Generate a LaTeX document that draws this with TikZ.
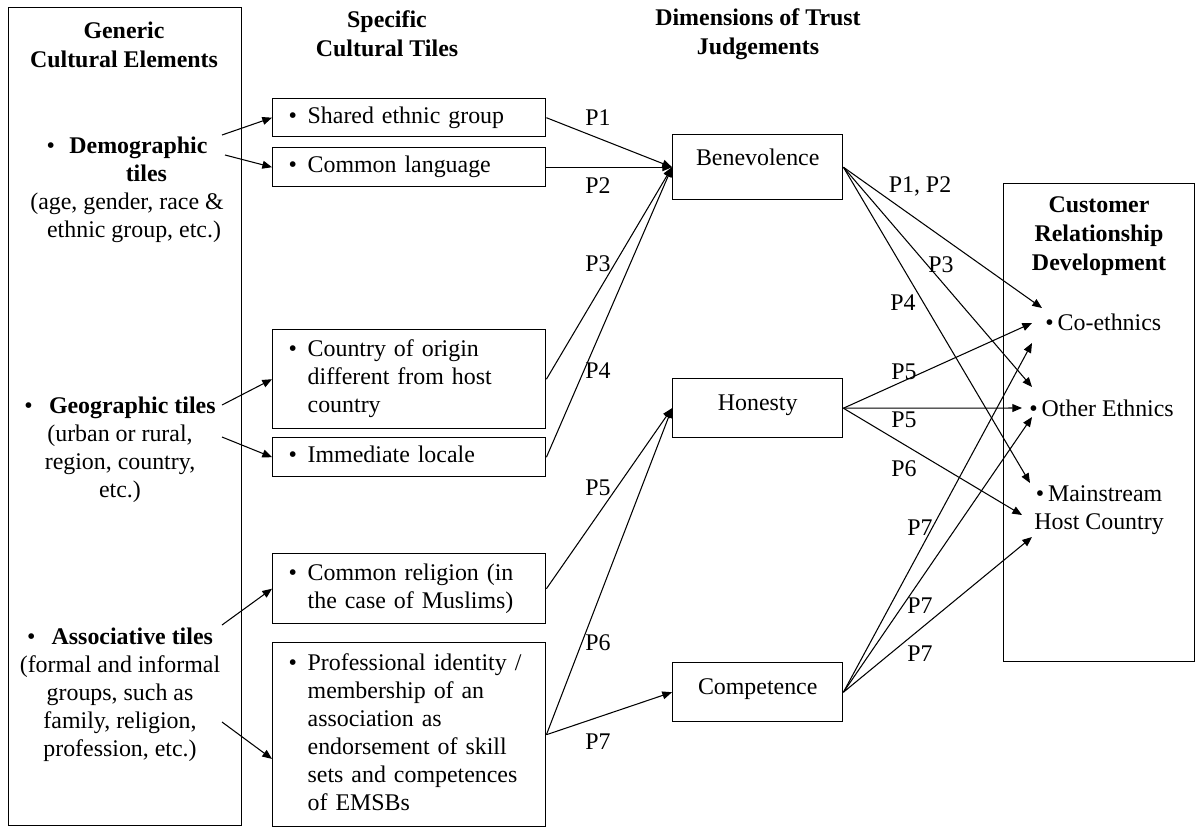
\documentclass[tikz,border=0pt]{standalone}
\usepackage{fontspec}
\setmainfont{Liberation Serif}
\usetikzlibrary{arrows.meta,positioning}

\newlength{\pxl}
\setlength{\pxl}{0.02cm}
\newcommand{\tileitem}[1]{\begin{tabular}{@{}p{10.8pt}@{}l@{}}\textbullet & #1\end{tabular}}

\tikzset{
  frame/.style={draw, line width=0.8pt, inner sep=0pt, anchor=north west},
  tile/.style={draw, line width=0.8pt, anchor=north west, text width=241\pxl, inner xsep=16\pxl, inner ysep=0pt, align=left},
  dim/.style={draw, line width=0.8pt, anchor=north west, minimum width=170\pxl, inner sep=0pt, text height=32\pxl, text depth=27\pxl},
  head/.style={font=\fontsize{13.6}{16.5}\selectfont\bfseries, align=center},
  link/.style={-{Triangle[length=5.5pt,width=4.5pt]}, line width=0.6pt},
}

\begin{document}
\begin{tikzpicture}[x=0.02cm, y=-0.02cm, font=\fontsize{13.6}{16}\selectfont]
  \useasboundingbox (0,0) rectangle (1195,829);

  % outer columns
  \node[frame, minimum width=233\pxl, minimum height=818\pxl] (generic) at (8,7) {};
  \node[frame, minimum width=191\pxl, minimum height=478\pxl] (crd) at (1003,183) {};

  % headings
  \node[head] (hgen) at (124,45) {Generic\\Cultural Elements};
  \node[head] (hspec) at (387,34) {Specific\\Cultural Tiles};
  \node[head] (hdim) at (758,34) {Dimensions of Trust\\Judgements};
  \node[head] (hcrd) at (1099,236) {Customer\\Relationship\\Development};

  % generic cultural elements
  \node[align=center] (demo) at (127,190) {\makebox[13pt][l]{\textbullet}\textbf{Demographic}\\\hspace*{22pt}\textbf{tiles}\\(age, gender, race \&\\\hspace*{8pt}ethnic group, etc.)};
  \node[align=center] (geo) at (120,450) {\makebox[14pt][l]{\textbullet}\textbf{Geographic tiles}\\(urban or rural,\\region, country,\\etc.)};
  \node[align=center] (asso) at (120,695) {\makebox[14pt][l]{\textbullet}\textbf{Associative tiles}\\(formal and informal\\groups, such as\\family, religion,\\profession, etc.)};

  % specific cultural tiles
  \node[tile, minimum height=38\pxl] (shared) at (272,98) {\tileitem{Shared ethnic group}};
  \node[tile, minimum height=39\pxl] (lang) at (272,147) {\tileitem{Common language}};
  \node[tile, minimum height=99\pxl] (origin) at (272,329) {\tileitem{Country of origin\\ & different from host\\ & country}};
  \node[tile, minimum height=39\pxl] (locale) at (272,437) {\tileitem{Immediate locale}};
  \node[tile, minimum height=70\pxl] (religion) at (272,553) {\tileitem{Common religion (in\\ & the case of Muslims)}};
  \node[tile, minimum height=184\pxl] (prof) at (272,642) {\tileitem{Professional identity /\\ & membership of an\\ & association as\\ & endorsement of skill\\ & sets and competences\\ & of EMSBs}};

  % trust dimensions
  \node[dim, text height=31\pxl, text depth=34\pxl] (benev) at (672,134) {Benevolence};
  \node[dim] (honest) at (672,378) {Honesty};
  \node[dim] (compet) at (672,662) {Competence};

  % relationship outcomes
  \node[anchor=west, inner sep=0pt] (coeth) at (1045,322) {\textbullet\,Co-ethnics};
  \node[anchor=west, inner sep=0pt] (other) at (1029,408) {\textbullet\,Other Ethnics};
  \node[align=center, inner sep=0pt] (mainst) at (1099,510) {\textbullet\,Mainstream\\Host Country};

  % free ends
  \coordinate (demo1) at (222,135);
  \coordinate (demo2) at (225,155);
  \coordinate (geo1) at (222,405);
  \coordinate (geo2) at (222,437);
  \coordinate (asso1) at (222,625);
  \coordinate (asso2) at (222,722);
  \coordinate (coB) at (1042,308);
  \coordinate (coH) at (1032,323);
  \coordinate (coC) at (1032,343);
  \coordinate (otB) at (1032,387);
  \coordinate (otH) at (1022,408);
  \coordinate (otC) at (1032,417);
  \coordinate (msB) at (1030,483);
  \coordinate (msH) at (1022,515);
  \coordinate (msC) at (1032,537);

  % elements to tiles
  \draw[link] (demo1) -- (shared.west);
  \draw[link] (demo2) -- (lang.west);
  \draw[link] (geo1) -- (origin.west);
  \draw[link] (geo2) -- (locale.west);
  \draw[link] (asso1) -- (religion.west);
  \draw[link] (asso2) -- (prof.190);

  % tiles to dimensions
  \foreach \src in {shared, lang, origin, locale}
    \draw[link] (\src.east) -- (benev.west);
  \draw[link] (religion.east) -- (honest.west);
  \draw[link] (prof.east) -- (honest.west);
  \draw[link] (prof.east) -- (compet.west);

  % dimensions to outcomes
  \foreach \dst in {coB, otB, msB}
    \draw[link] (benev.east) -- (\dst);
  \foreach \dst in {coH, otH, msH}
    \draw[link] (honest.east) -- (\dst);
  \foreach \dst in {coC, otC, msC}
    \draw[link] (compet.east) -- (\dst);

  % propositions
  \node (p1) at (598,118) {P1};
  \node (p2) at (598,186) {P2};
  \node (p3) at (598,264) {P3};
  \node (p4) at (598,371) {P4};
  \node (p5) at (598,488) {P5};
  \node (p6) at (598,643) {P6};
  \node (p7) at (598,742) {P7};
  \node (p12r) at (920,186) {P1, P2};
  \node (p3r) at (941,265) {P3};
  \node (p4r) at (903,303) {P4};
  \node (p5r) at (904,372) {P5};
  \node (p5s) at (904,420) {P5};
  \node (p6r) at (904,469) {P6};
  \node (p7r) at (920,528) {P7};
  \node (p7s) at (920,606) {P7};
  \node (p7t) at (920,654) {P7};
\end{tikzpicture}
\end{document}
